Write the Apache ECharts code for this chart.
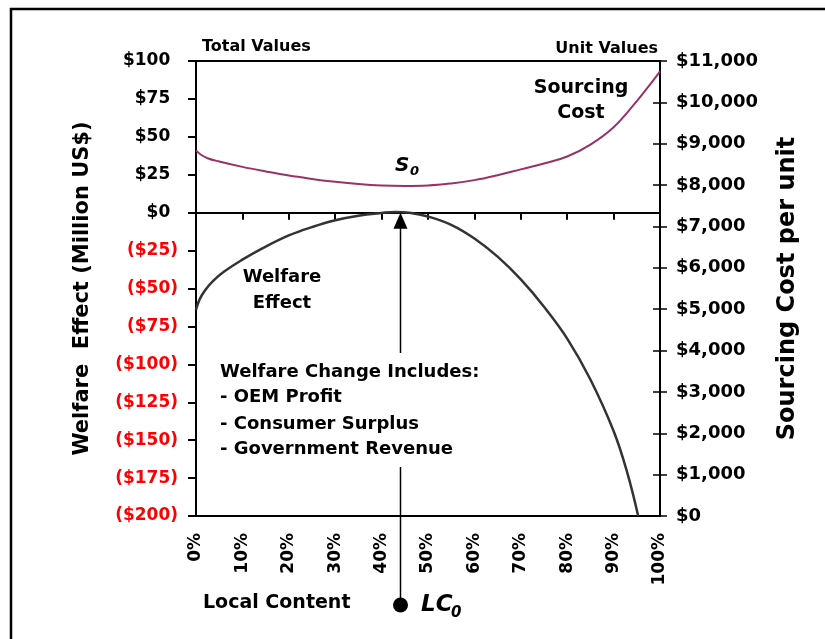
<!DOCTYPE html>
<html>
<head>
<meta charset="utf-8">
<script src="https://cdn.jsdelivr.net/npm/echarts@6/dist/echarts.min.js"></script>
<style>
  html, body { margin: 0; padding: 0; background: #fff; }
  #chart { width: 825px; height: 639px; }
</style>
</head>
<body>
<div id="chart"></div>
<script>
// welfare effect (million US$), left axis
const welfareShare  = [0, 0.8, 2, 3.7, 6, 10, 14, 20, 25, 30, 35, 40, 43, 46, 50, 55, 60, 65, 70, 75, 80, 85, 90, 93, 95.3];
const welfareValues = [-64, -57, -51, -45, -39, -31, -24, -15, -9.5, -5, -2, -0.2, 0.5, 0, -2.5, -8, -17, -29, -44, -62, -83, -110, -144, -172, -200];

// sourcing cost per unit, right axis
const costShare  = [0, 1, 2.5, 5, 10, 15, 20, 25, 30, 35, 40, 45, 50, 55, 60, 65, 70, 75, 80, 85, 90, 95, 97.5, 100];
const costValues = [8840, 8740, 8650, 8570, 8440, 8330, 8230, 8150, 8080, 8025, 7990, 7980, 7990, 8040, 8120, 8240, 8380, 8520, 8690, 8980, 9400, 10030, 10380, 10750];

const lc0Share = 44; // LC0 marker position on the x axis

const FONT = 'DejaVu Sans';
const chart = echarts.init(document.getElementById('chart'));

const toPair = (xs, ys) => xs.map((x, i) => [x, ys[i]]);

const option = {
  animation: false,
  grid: { left: 196, right: 165, top: 61, bottom: 123, show: true, borderColor: '#000', borderWidth: 2 },
  xAxis: [
    {
      type: 'value', min: 0, max: 100, interval: 10, position: 'bottom',
      axisLine: { onZero: false, lineStyle: { color: '#000', width: 2 } },
      axisTick: { show: false },
      splitLine: { show: false },
      axisLabel: {
        rotate: 90, margin: 17, formatter: '{value}%',
        color: '#000', fontFamily: FONT, fontWeight: 'bold', fontSize: 17
      }
    },
    {
      type: 'value', min: 0, max: 100, interval: 10, position: 'bottom',
      axisLine: { onZero: true, onZeroAxisIndex: 0, lineStyle: { color: '#000', width: 2 } },
      axisTick: { show: true, length: 7, lineStyle: { color: '#000', width: 2 } },
      axisLabel: { show: false },
      splitLine: { show: false }
    }
  ],
  yAxis: [
    {
      type: 'value', min: -200, max: 100, interval: 25, position: 'left',
      axisLine: { show: true, onZero: false, lineStyle: { color: '#000', width: 2 } },
      axisTick: { show: true, length: 8, lineStyle: { color: '#000', width: 2 } },
      splitLine: { show: false },
      axisLabel: {
        margin: 18,
        formatter: v => v < 0 ? '{n|($' + (-v) + ')}' : '{p|$' + v + '}{h|)}',
        rich: {
          n: { color: '#ff0000', fontFamily: FONT, fontWeight: 'bold', fontSize: 17 },
          p: { color: '#000', fontFamily: FONT, fontWeight: 'bold', fontSize: 17 },
          h: { color: 'rgba(0,0,0,0)', fontFamily: FONT, fontWeight: 'bold', fontSize: 17 }
        }
      },
      name: 'Welfare  Effect (Million US$)',
      nameLocation: 'middle', nameRotate: 90, nameGap: 103,
      nameTextStyle: { color: '#000', fontFamily: FONT, fontWeight: 'bold', fontSize: 21 }
    },
    {
      type: 'value', min: 0, max: 11000, interval: 1000, position: 'right',
      axisLine: { show: true, onZero: false, lineStyle: { color: '#000', width: 2 } },
      axisTick: { show: true, length: 7, lineStyle: { color: '#000', width: 1.5 } },
      splitLine: { show: false },
      axisLabel: {
        margin: 16,
        formatter: v => '$' + v.toLocaleString('en-US'),
        color: '#000', fontFamily: FONT, fontWeight: 'bold', fontSize: 18
      },
      name: 'Sourcing Cost per unit',
      nameLocation: 'middle', nameRotate: 90, nameGap: 116,
      nameTextStyle: { color: '#000', fontFamily: FONT, fontWeight: 'bold', fontSize: 24 }
    },
    {
      // inner half of the crossing ticks on the right axis
      type: 'value', min: 0, max: 11000, interval: 1000, position: 'right',
      axisLine: { show: false, onZero: false },
      axisTick: { show: true, inside: true, length: 7, lineStyle: { color: '#000', width: 1.5 } },
      axisLabel: { show: false },
      splitLine: { show: false }
    }
  ],
  series: [
    {
      name: 'Welfare Effect', type: 'line', xAxisIndex: 0, yAxisIndex: 0,
      data: toPair(welfareShare, welfareValues),
      showSymbol: false, smooth: 0.4,
      lineStyle: { color: '#333333', width: 2.5 }
    },
    {
      name: 'Sourcing Cost', type: 'line', xAxisIndex: 0, yAxisIndex: 1,
      data: toPair(costShare, costValues),
      showSymbol: false, smooth: 0.4,
      lineStyle: { color: '#993366', width: 2 }
    }
  ]
};

chart.setOption(option);

// annotations
const tip = chart.convertToPixel({ xAxisIndex: 0, yAxisIndex: 0 }, [lc0Share, 0]);
const px = Math.round(tip[0]) + 0.5;
const py = tip[1];
const bold = size => 'bold ' + size + 'px "' + FONT + '"';
const boldItalic = size => 'italic bold ' + size + 'px "' + FONT + '"';
const txt = (text, x, y, font, align) => ({
  type: 'text', x: x, y: y, z: 100,
  style: { text: text, font: font, fill: '#000', align: align || 'left', verticalAlign: 'middle' }
});

chart.setOption({
  graphic: [
    { type: 'rect', shape: { x: 11, y: 9, width: 840, height: 660 }, style: { fill: 'none', stroke: '#000', lineWidth: 2.5 } },
    txt('Total Values', 202, 47, bold(16)),
    txt('Unit Values', 658, 49, bold(16), 'right'),
    txt('Sourcing', 581, 88, bold(19), 'center'),
    txt('Cost', 581, 113, bold(19), 'center'),
    txt('S', 395, 166, boldItalic(20)),
    txt('0', 410, 172, boldItalic(13)),
    txt('Welfare', 282, 277, bold(18), 'center'),
    txt('Effect', 282, 303, bold(18), 'center'),
    txt('Welfare Change Includes:', 220, 372, bold(18)),
    txt('- OEM Profit', 220, 397, bold(18)),
    txt('- Consumer Surplus', 220, 424, bold(18)),
    txt('- Government Revenue', 220, 449, bold(18)),
    txt('Local Content', 203, 603, bold(19)),
    txt('LC', 421, 605, boldItalic(23)),
    txt('0', 451, 613, boldItalic(15)),
    { type: 'polygon', z: 100, shape: { points: [[px, py], [px - 7, py + 16], [px + 7, py + 16]] }, style: { fill: '#000' } },
    { type: 'line', z: 100, shape: { x1: px, y1: py + 15, x2: px, y2: 353 }, style: { stroke: '#000', lineWidth: 1.5 } },
    { type: 'line', z: 100, shape: { x1: px, y1: 467, x2: px, y2: 605 }, style: { stroke: '#000', lineWidth: 1.5 } },
    { type: 'circle', z: 100, shape: { cx: px, cy: 605, r: 7.5 }, style: { fill: '#000' } }
  ]
});
</script>
</body>
</html>
